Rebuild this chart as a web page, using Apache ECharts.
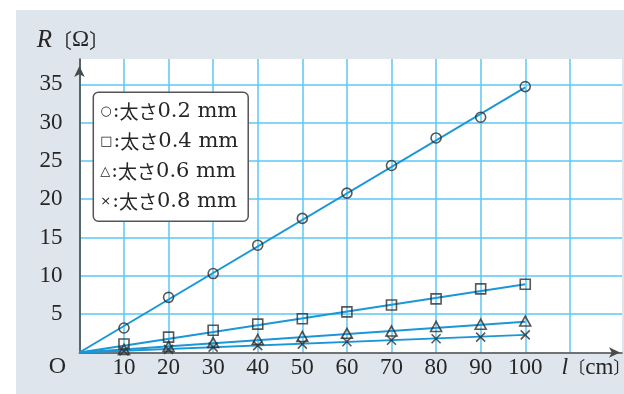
<!DOCTYPE html>
<html>
<head>
<meta charset="utf-8">
<script src="https://cdn.jsdelivr.net/npm/echarts@6/dist/echarts.min.js"></script>
<style>
  html, body { margin: 0; padding: 0; background: #ffffff; }
  #chart { position: absolute; left: 16px; top: 10px; width: 608px; height: 384px; background: #dfe5ec; }
</style>
</head>
<body>
<div id="chart"></div>
<script>
// ---- data ----
const lengths = [10, 20, 30, 40, 50, 60, 70, 80, 90, 100];           // l [cm]
const r02 = [3.2, 7.2, 10.3, 14.0, 17.5, 20.8, 24.4, 28.0, 30.7, 34.7]; // 0.2 mm (circles)
const r04 = [1.1, 2.0, 2.9, 3.7, 4.4, 5.3, 6.2, 7.0, 8.3, 8.9];        // 0.4 mm (squares)
const r06 = [0.4, 0.8, 1.3, 1.7, 2.1, 2.5, 2.8, 3.4, 3.7, 4.1];        // 0.6 mm (triangles)
const r08 = [0.2, 0.4, 0.7, 0.9, 1.1, 1.4, 1.6, 1.8, 2.0, 2.3];        // 0.8 mm (crosses)
const fitStart = [0, 0];
const fitEndX = 100;
const fitEndY = [34.6, 8.9, 4.0, 2.3];                                  // fitted line ends at l = 100
const seriesNames = ['太さ0.2 mm', '太さ0.4 mm', '太さ0.6 mm', '太さ0.8 mm'];
const legendGlyphs = ['○', '□', '△', '×'];
const yLabelMax = 35;
const xLabelMax = 100;

const measured = [r02, r04, r06, r08];
const symbols = ['circle', 'rect', 'triangle', 'path://M0,0L10,10M10,0L0,10'];
const symbolSizes = [10, 10, [11, 10], 9];

const chart = echarts.init(document.getElementById('chart'), null, { renderer: 'canvas' });

const serif = '"Liberation Serif", "Noto Sans CJK JP", serif';
const gridBlue = '#5cc8f3';
const lineBlue = '#1a97d6';
const ink = '#262626';

const series = [];
fitEndY.forEach((v, i) => {
  series.push({
    type: 'line',
    name: 'fit' + i,
    data: [fitStart, [fitEndX, v]],
    showSymbol: false,
    silent: true,
    z: 2,
    lineStyle: { color: lineBlue, width: 2 }
  });
});
measured.forEach((arr, i) => {
  series.push({
    type: 'scatter',
    name: seriesNames[i],
    data: lengths.map((x, k) => [x, arr[k]]),
    symbol: symbols[i],
    symbolSize: symbolSizes[i],
    z: 3,
    itemStyle: { color: 'rgba(0,0,0,0)', borderColor: '#2e2e2e', borderWidth: 1.6 }
  });
});

const xSplitColors = [];
for (let i = 0; i < 12; i++) xSplitColors.push(gridBlue);
xSplitColors.push('rgba(0,0,0,0)');

chart.setOption({
  animation: false,
  backgroundColor: 'transparent',
  grid: {
    show: true,
    left: 63.4, right: 2, top: 49, bottom: 41.5,
    backgroundColor: '#ffffff',
    borderWidth: 0
  },
  xAxis: {
    type: 'value',
    min: 0, max: 121.7, interval: 10,
    axisLine: { show: true, lineStyle: { color: '#4a4a4a', width: 1.6 }, symbol: ['none', 'arrow'], symbolSize: [8, 11], symbolOffset: [0, -2] },
    axisTick: { show: false },
    axisLabel: {
      margin: 4,
      color: ink, fontFamily: serif, fontSize: 23,
      showMaxLabel: false,
      formatter: v => (v > 0 && v <= xLabelMax ? String(v) : '')
    },
    splitLine: { show: true, showMinLine: true, showMaxLine: false, lineStyle: { color: xSplitColors, width: 1.5 } }
  },
  yAxis: {
    type: 'value',
    min: 0, max: 38.3, interval: 5,
    axisLine: { show: true, lineStyle: { color: '#4a4a4a', width: 1.6 }, symbol: ['none', 'arrow'], symbolSize: [8, 11], symbolOffset: [0, -7] },
    axisTick: { show: false },
    axisLabel: {
      margin: 17,
      color: ink, fontFamily: serif, fontSize: 23,
      showMaxLabel: false,
      formatter: v => (v > 0 && v <= yLabelMax ? String(v) : '')
    },
    splitLine: { show: true, showMinLine: false, showMaxLine: false, lineStyle: { color: gridBlue, width: 1.5 } }
  },
  legend: {
    data: seriesNames,
    orient: 'vertical',
    left: 77.3, top: 82.3,
    icon: 'none',
    itemWidth: 0, itemHeight: 14,
    itemGap: 8,
    selectedMode: false,
    padding: [8, 10, 9, 2],
    backgroundColor: '#ffffff',
    borderColor: '#555555', borderWidth: 1.5, borderRadius: 5,
    formatter: name => {
      const i = seriesNames.indexOf(name);
      return '{g|' + legendGlyphs[i] + '}{c|:}{j|' + name.slice(0, 2) + '}{s|' + name.slice(2) + '}';
    },
    textStyle: {
      color: ink,
      lineHeight: 22,
      rich: {
        g: { fontFamily: '"DejaVu Sans", sans-serif', fontSize: 13, color: ink, padding: [0, 1, 0, 0] },
        c: { fontFamily: '"DejaVu Serif", serif', fontSize: 20, color: ink },
        s: { fontFamily: '"DejaVu Serif", serif', fontSize: 21, color: ink },
        j: { fontFamily: '"Noto Sans CJK JP", sans-serif', fontSize: 19, color: ink }
      }
    }
  },
  graphic: [
    {
      type: 'text', x: 20.7, y: 30,
      style: {
        text: '{i|R}{b|〔}{o|Ω}{b|〕}',
        textVerticalAlign: 'middle',
        rich: {
          i: { fontFamily: serif, fontStyle: 'italic', fontSize: 25, fill: ink },
          o: { fontFamily: serif, fontSize: 23, fill: ink },
          b: { fontFamily: '"Noto Sans CJK JP", sans-serif', fontSize: 20, fill: ink }
        }
      }
    },
    {
      type: 'text', x: 545.5, y: 358,
      style: {
        text: '{i|l}{b|〔}{o|cm}{b|〕}',
        textVerticalAlign: 'middle',
        rich: {
          i: { fontFamily: serif, fontStyle: 'italic', fontSize: 24, fill: ink },
          o: { fontFamily: serif, fontSize: 23, fill: ink },
          b: { fontFamily: '"Noto Sans CJK JP", sans-serif', fontSize: 17, fill: ink }
        }
      }
    },
    {
      type: 'text', x: 41.5, y: 357,
      style: {
        text: 'O', fontFamily: serif, fontSize: 24, fill: ink,
        textAlign: 'center', textVerticalAlign: 'middle'
      }
    }
  ],
  series: series
});
</script>
</body>
</html>
